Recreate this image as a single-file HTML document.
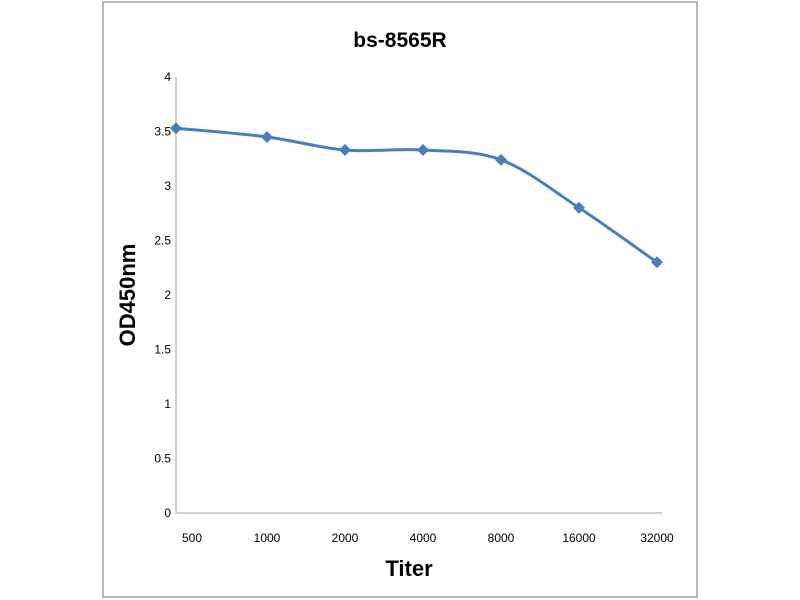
<!DOCTYPE html>
<html><head><meta charset="utf-8"><style>
html,body{margin:0;padding:0;background:#fff;width:800px;height:600px;overflow:hidden}
svg{font-family:"Liberation Sans",sans-serif}
</style></head><body>
<svg width="800" height="600">
<rect x="103" y="2" width="594" height="595" fill="#fff" stroke="#a0a0a0" stroke-width="1.5"/>
<text x="400" y="47" text-anchor="middle" font-size="21" font-weight="bold">bs-8565R</text>
<line x1="176" y1="77" x2="176" y2="513" stroke="#a0a0a0"/>
<line x1="176" y1="513" x2="662" y2="513" stroke="#a0a0a0"/>
<text transform="translate(135,295) rotate(-90)" text-anchor="middle" font-size="22" font-weight="bold">OD450nm</text>
<text x="409" y="576" text-anchor="middle" font-size="22" font-weight="bold">Titer</text>
<g id="ticks"></g>
<path id="line" fill="none" stroke="#4a7ebb" stroke-width="3"/>
<g id="marks"></g>
</svg>
<script>
const categories=["500","1000","2000","4000","8000","16000","32000"];
const values=[3.53,3.45,3.33,3.33,3.24,2.80,2.30];
const yTicks=[0,0.5,1,1.5,2,2.5,3,3.5,4];
const ns="http://www.w3.org/2000/svg";
function y(v){return 513-v*109;}
function xLabel(i){return i===0?192:267+78*(i-1);}
function xPt(i){return i===0?176:267+78*(i-1);}
const ticks=document.getElementById('ticks');
yTicks.forEach(t=>{const e=document.createElementNS(ns,'text');


e.setAttribute('x',171);e.setAttribute('y',y(t)+4);e.setAttribute('text-anchor','end');e.setAttribute('font-size','12');e.textContent=String(t);ticks.appendChild(e);});
categories.forEach((c,i)=>{const e=document.createElementNS(ns,'text');


e.setAttribute('x',xLabel(i));e.setAttribute('y',542);e.setAttribute('text-anchor','middle');e.setAttribute('font-size','12');e.textContent=c;ticks.appendChild(e);});
const pts=values.map((v,i)=>[xPt(i),y(v)]);
let d='M'+pts[0][0]+','+pts[0][1];
for(let i=0;i<pts.length-1;i++){const p0=pts[Math.max(0,i-1)],p1=pts[i],p2=pts[i+1],p3=pts[Math.min(pts.length-1,i+2)];const k=1/6;
d+=` C${p1[0]+(p2[0]-p0[0])*k},${p1[1]+(p2[1]-p0[1])*k} ${p2[0]-(p3[0]-p1[0])*k},${p2[1]-(p3[1]-p1[1])*k} ${p2[0]},${p2[1]}`;}
document.getElementById('line').setAttribute('d',d);
const marks=document.getElementById('marks');
pts.forEach((p,i)=>{const e=document.createElementNS(ns,'path');


e.setAttribute('d',`M${p[0]},${p[1]-6}L${p[0]+6},${p[1]}L${p[0]},${p[1]+6}L${p[0]-6},${p[1]}Z`);e.setAttribute('fill','#4a7ebb');marks.appendChild(e);});
</script>
</body></html>
